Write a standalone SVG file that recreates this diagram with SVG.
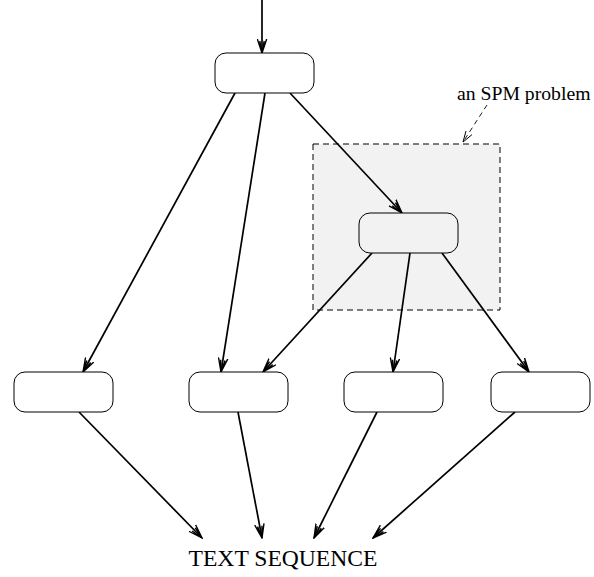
<svg xmlns="http://www.w3.org/2000/svg" width="594" height="577" viewBox="0 0 594 577">
<defs>
<style>
.node{fill:#fff;stroke:#000;stroke-width:1}
.edge{fill:none;stroke:#000;stroke-width:1.7}
.lbl{font-family:"Liberation Serif","Times New Roman",serif;fill:#000}
</style>
<marker id="ah" viewBox="0 0 15 11" refX="14" refY="5.5" markerWidth="15" markerHeight="11" markerUnits="userSpaceOnUse" orient="auto">
<path d="M0,0.8 L14,5.5 L0,10.2 M2,3.3 L14,5.5 L2,7.7" fill="none" stroke="#000" stroke-width="1.4"/>
</marker>
<marker id="ahd" viewBox="0 0 12 8" refX="11" refY="4" markerWidth="12" markerHeight="8" markerUnits="userSpaceOnUse" orient="auto">
<path d="M0,0.5 L11,4 L0,7.5" fill="none" stroke="#000" stroke-width="0.9"/>
</marker>
</defs>
<rect width="594" height="577" fill="#fff"/>
<g id="spm-box">
<rect x="313" y="144" width="187" height="166" fill="#f2f2f2" stroke="#000" stroke-width="1" stroke-dasharray="6,4"/>
<text class="lbl" x="457" y="100" font-size="19.7">an SPM problem</text>
</g>
<g id="connectors">
<line class="edge" x1="262" y1="0" x2="262" y2="53" marker-end="url(#ah)"/>
<line class="edge" x1="235" y1="93" x2="83" y2="372" marker-end="url(#ah)"/>
<line class="edge" x1="265" y1="93" x2="221" y2="372" marker-end="url(#ah)"/>
<line class="edge" x1="290" y1="93" x2="402" y2="213" marker-end="url(#ah)"/>
<line class="edge" x1="372" y1="253" x2="263" y2="372" marker-end="url(#ah)"/>
<line class="edge" x1="410" y1="253" x2="393" y2="372" marker-end="url(#ah)"/>
<line class="edge" x1="442" y1="253" x2="529" y2="372" marker-end="url(#ah)"/>
<line class="edge" x1="79" y1="412" x2="202" y2="538" marker-end="url(#ah)"/>
<line class="edge" x1="238" y1="412" x2="262" y2="538" marker-end="url(#ah)"/>
<line class="edge" x1="377" y1="412" x2="314" y2="538" marker-end="url(#ah)"/>
<line class="edge" x1="515" y1="412" x2="373" y2="538" marker-end="url(#ah)"/>
<line x1="487" y1="105" x2="463" y2="142" fill="none" stroke="#000" stroke-width="0.9" stroke-dasharray="5,4" marker-end="url(#ahd)"/>
</g>
<g id="n-top"><rect class="node" x="215" y="53" width="99" height="40" rx="11"/></g>
<g id="n-spm"><rect class="node" x="359" y="213" width="99" height="40" rx="11" style="fill:#f2f2f2"/></g>
<g id="n-b1"><rect class="node" x="14" y="372" width="99" height="40" rx="11"/></g>
<g id="n-b2"><rect class="node" x="189" y="372" width="99" height="40" rx="11"/></g>
<g id="n-b3"><rect class="node" x="344" y="372" width="99" height="40" rx="11"/></g>
<g id="n-b4"><rect class="node" x="491" y="372" width="99" height="40" rx="11"/></g>
<g id="n-text"><text class="lbl" x="283" y="566" font-size="23.6" text-anchor="middle">TEXT SEQUENCE</text></g>
</svg>
